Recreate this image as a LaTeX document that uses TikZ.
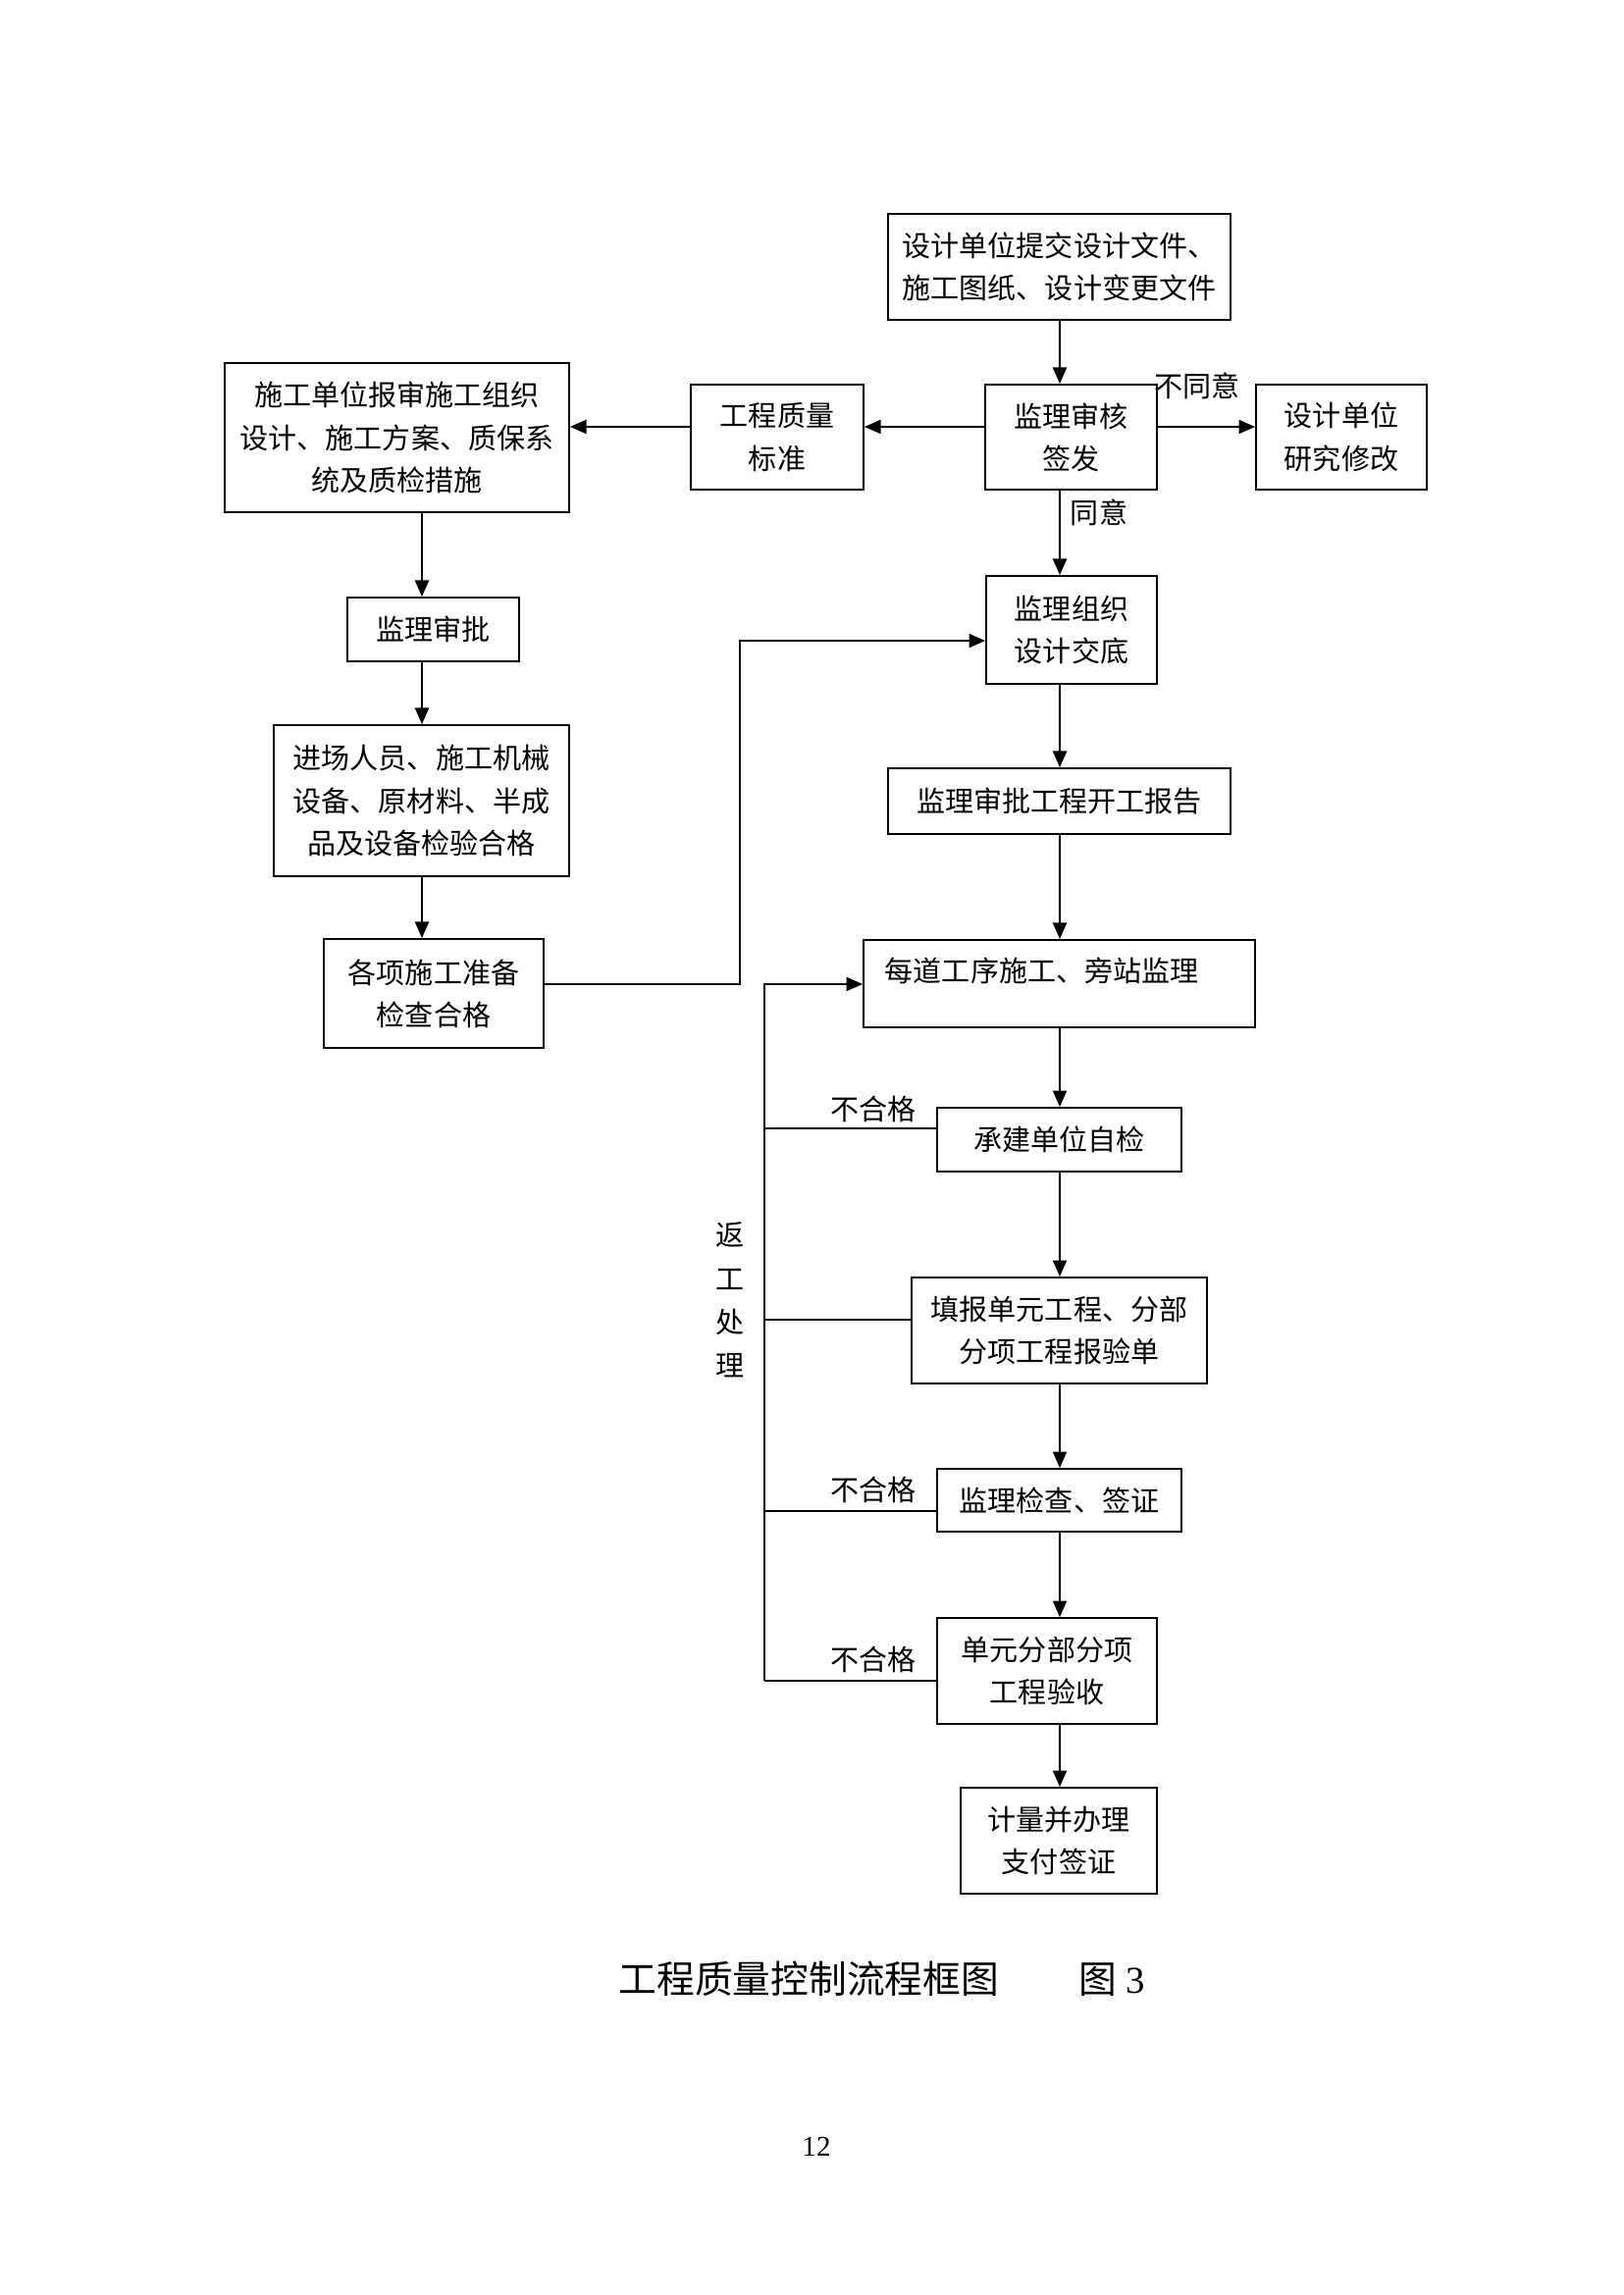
\documentclass[tikz,border=0pt]{standalone}
\usepackage{fontspec}
\setmainfont{Liberation Serif}
\newfontfamily\cjk{Noto Sans CJK SC}
\usetikzlibrary{arrows.meta}
\begin{document}
\begin{tikzpicture}[x=0.127mm,y=-0.127mm,line width=0.6pt,
  bx/.style 2 args={draw,line width=0.7pt,inner sep=0pt,align=center,
    font=\cjk\fontsize{10.5pt}{15.6pt}\selectfont,
    minimum width=#1*0.127mm,minimum height=#2*0.127mm},
  lbl/.style={inner sep=0pt,font=\cjk\fontsize{10.5pt}{15.6pt}\selectfont},
  arr/.style={-{Triangle[length=2.1mm,width=1.8mm]}}]
\useasboundingbox (0,0) rectangle (1654,2339);
% boxes
\node[bx={349}{108}] (A) at (1079.5,272) {设计单位提交设计文件、\\施工图纸、设计变更文件};
\node[bx={175}{107}] (B) at (1091.5,445.5) {监理审核\\签发};
\node[bx={174}{107}] (C) at (1367,445.5) {设计单位\\研究修改};
\node[bx={176}{107}] (D) at (792,445.5) {工程质量\\标准};
\node[bx={351}{152}] (E) at (404.5,446) {施工单位报审施工组织\\设计、施工方案、质保系\\统及质检措施};
\node[bx={175}{65}] (F) at (441.5,641.5) {监理审批};
\node[bx={301}{154}] (G) at (429.5,816) {进场人员、施工机械\\设备、原材料、半成\\品及设备检验合格};
\node[bx={224}{111}] (H) at (442,1012.5) {各项施工准备\\检查合格};
\node[bx={174}{110}] (I) at (1092,642) {监理组织\\设计交底};
\node[bx={349}{67}] (J) at (1079.5,816.5) {监理审批工程开工报告};
\node[bx={399}{89}] (K) at (1079.5,1002.5) {};
\node[lbl,anchor=west] (Kt) at (901,989) {每道工序施工、旁站监理};
\node[bx={249}{65}] (L) at (1079.5,1161.5) {承建单位自检};
\node[bx={301}{108}] (M) at (1079.5,1356) {填报单元工程、分部\\分项工程报验单};
\node[bx={249}{64}] (N) at (1079.5,1529) {监理检查、签证};
\node[bx={224}{108}] (O) at (1067,1703) {单元分部分项\\工程验收};
\node[bx={200}{108}] (P) at (1079,1876) {计量并办理\\支付签证};
% helper coordinates
\coordinate (mx) at (1080,0);
\coordinate (lx) at (430,0);
\coordinate (ay) at (0,435);
% main column
\draw[arr] (A.south -| mx) -- (B.north -| mx);
\draw[arr] (B.south -| mx) -- (I.north -| mx);
\draw[arr] (I.south -| mx) -- (J.north -| mx);
\draw[arr] (J.south -| mx) -- (K.north -| mx);
\draw[arr] (K.south -| mx) -- (L.north -| mx);
\draw[arr] (L.south -| mx) -- (M.north -| mx);
\draw[arr] (M.south -| mx) -- (N.north -| mx);
\draw[arr] (N.south -| mx) -- (O.north -| mx);
\draw[arr] (O.south -| mx) -- (P.north -| mx);
% horizontal at top
\draw[arr] (B.east |- ay) -- (C.west |- ay);
\draw[arr] (B.west |- ay) -- (D.east |- ay);
\draw[arr] (D.west |- ay) -- (E.east |- ay);
\node[lbl] (bty) at (1220,393) {不同意};
\node[lbl] (ty) at (1120,522) {同意};
% left column
\draw[arr] (E.south -| lx) -- (F.north -| lx);
\draw[arr] (F.south -| lx) -- (G.north -| lx);
\draw[arr] (G.south -| lx) -- (H.north -| lx);
% H to I
\coordinate (h1) at (754,1003);
\coordinate (h2) at (754,653);
\draw[arr] (H.east |- h1) -- (h1) -- (h2) -- (I.west |- h2);
% rework loop
\coordinate (lt) at (779,1003);
\coordinate (lb) at (779,1713);
\coordinate (r1) at (779,1150);
\coordinate (r2) at (779,1345);
\coordinate (r3) at (779,1540);
\draw[arr] (lb) -- (lt) -- (K.west |- lt);
\draw (r1) -- (L.west |- r1);
\draw (r2) -- (M.west |- r2);
\draw (r3) -- (N.west |- r3);
\draw (lb) -- (O.west |- lb);
\node[lbl] (b1) at (890,1130) {不合格};
\node[lbl] (b2) at (890,1518) {不合格};
\node[lbl] (b3) at (890,1691) {不合格};
\node[lbl,align=center,font=\cjk\fontsize{10.5pt}{16pt}\selectfont] (fg) at (744,1325) {返\\工\\处\\理};
% caption
\node[inner sep=0pt,font=\fontsize{14pt}{16pt}\selectfont] (cap) at (899,2017) {{\cjk 工程质量控制流程框图}\hspace{2.1em}{\cjk 图} 3};
\node[inner sep=0pt,font=\fontsize{10.5pt}{12pt}\selectfont] (pg) at (832,2188) {12};
\end{tikzpicture}
\end{document}
